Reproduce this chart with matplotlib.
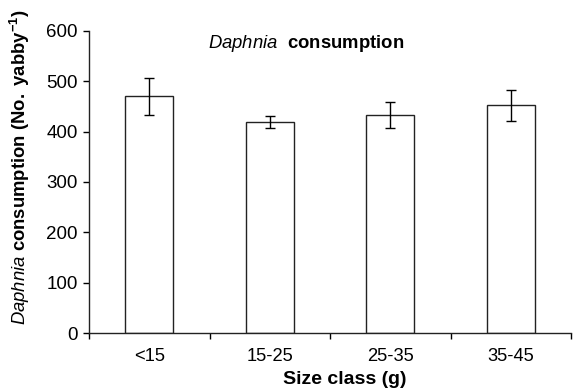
import matplotlib
matplotlib.use('Agg')
import matplotlib.pyplot as plt
import numpy as np

size_classes = ['<15', '15-25', '25-35', '35-45']
consumption = [470, 419, 433, 452]
consumption_err = [36, 12, 26, 30]
y_ticks = [0, 100, 200, 300, 400, 500, 600]

plt.rcParams['font.family'] = 'Liberation Sans'
plt.rcParams['mathtext.fontset'] = 'custom'
plt.rcParams['mathtext.rm'] = 'Liberation Sans'
plt.rcParams['mathtext.it'] = 'Liberation Sans:italic'
plt.rcParams['mathtext.bf'] = 'Liberation Sans:bold'

fig = plt.figure(figsize=(5.73, 3.88), dpi=100)
ax = fig.add_axes([89 / 573, 1 - 333 / 388, 482 / 573, 302 / 388])

x = np.arange(len(size_classes))
ax.bar(x, consumption, width=0.4, color='white', edgecolor='#222222', linewidth=1.0)
ax.errorbar(x, consumption, yerr=consumption_err, fmt='none', ecolor='black',
            elinewidth=1.0, capsize=3.5, capthick=1.0)

ax.set_xlim(-0.5, len(size_classes) - 0.5)
ax.set_ylim(0, 600)
ax.set_yticks(y_ticks)
ax.set_xticks(x)
ax.set_xticklabels(size_classes)
ax.set_xticks(np.arange(-0.5, len(size_classes), 1.0), minor=True)
ax.tick_params(axis='x', which='major', length=0, pad=11, labelsize=13.2)
ax.tick_params(axis='x', which='minor', length=4, width=1, direction='out')
ax.tick_params(axis='y', length=4, width=1, direction='out', labelsize=13.5, pad=4)

for side in ['top', 'right']:
    ax.spines[side].set_visible(False)
for side in ['left', 'bottom']:
    ax.spines[side].set_linewidth(1.0)
    ax.spines[side].set_color('#222222')

fig.text(208 / 573, 1 - 43 / 388, r'$\it{Daphnia}$  $\bf{consumption}$',
         fontsize=13.3, ha='left', va='center')

fig.text(345 / 573, 1 - 379 / 388, 'Size class (g)', fontsize=14, fontweight='bold',
         ha='center', va='center')
fig.text(20 / 573, 1 - 167 / 388,
         r'$\it{Daphnia}$ $\bf{consumption\ (No.\ yabby^{-1})}$',
         fontsize=13.3, rotation=90, ha='center', va='center')

fig.savefig('out.png', dpi=100)
